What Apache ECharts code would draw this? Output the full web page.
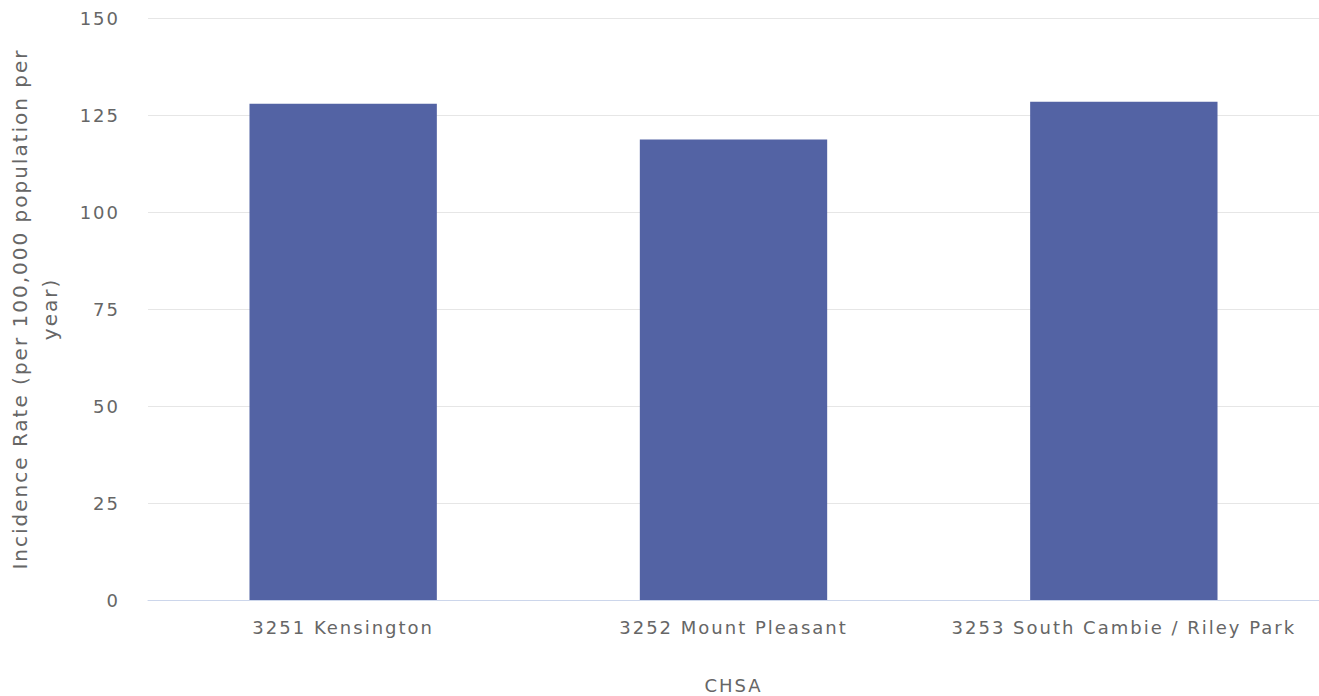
<!DOCTYPE html>
<html lang="en">
<head>
  <meta charset="UTF-8">
  <title>Incidence Rate by CHSA</title>
  <script src="https://cdn.jsdelivr.net/npm/echarts@6/dist/echarts.min.js"></script>
  <style>
    html, body { margin: 0; padding: 0; background: #fff; }
    #chart { width: 1319px; height: 696px; }
    #chart text { letter-spacing: 2px; }
  </style>
</head>
<body>
  <div id="chart"></div>
  <script>
    // data
    const categories = ['3251 Kensington', '3252 Mount Pleasant', '3253 South Cambie / Riley Park'];
    const rates = [127.9, 118.7, 128.4];
    const yTicks = [0, 25, 50, 75, 100, 125, 150];

    let chart = echarts.init(document.getElementById('chart'), null, { renderer: 'svg' });

    let option = {
      animation: false,
      textStyle: { fontFamily: 'DejaVu Sans' },
      grid: { left: 148, right: 0, top: 18, bottom: 96, containLabel: false, outerBoundsMode: 'none' },
      xAxis: {
        type: 'category',
        data: categories,
        name: 'CHSA',
        nameLocation: 'middle',
        nameGap: 76,
        nameTextStyle: { color: '#666', fontSize: 18 },
        axisLine: { lineStyle: { color: '#ccd6eb' } },
        axisTick: { show: false },
        axisLabel: { color: '#666', fontSize: 18, margin: 18 }
      },
      yAxis: {
        type: 'value',
        min: yTicks[0],
        max: yTicks[yTicks.length - 1],
        interval: 25,
        name: 'Incidence Rate (per 100,000 population per\nyear)',
        nameLocation: 'middle',
        nameGap: 83,
        nameTextStyle: { color: '#666', fontSize: 20, lineHeight: 30 },
        axisLine: { show: false },
        axisTick: { show: false },
        axisLabel: { color: '#666', fontSize: 18, margin: 28 },
        splitLine: { lineStyle: { color: '#e6e6e6' } }
      },
      series: [{
        type: 'bar',
        data: rates,
        barWidth: '48%',
        itemStyle: { color: '#5363a4' }
      }]
    };
    chart.setOption(option);
  </script>
</body>
</html>
